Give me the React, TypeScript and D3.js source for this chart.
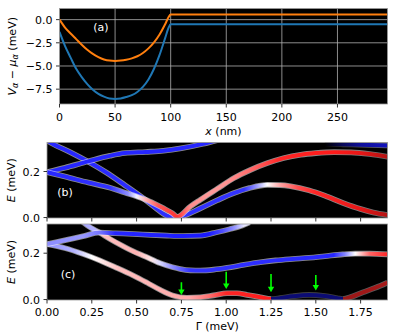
import React from "react";
import * as d3 from "d3";

const FONT = "'DejaVu Sans', sans-serif";
const FS = 11;

// ---------- Panel (a): potential profiles ----------
const potX = [0, 5, 10, 15, 20, 25, 30, 35, 40, 45, 50, 55, 60, 65, 70, 75, 80, 85, 90, 95, 98, 100, 295];
const potOrange = [0.0, -0.85, -1.5, -2.1, -2.7, -3.25, -3.7, -4.05, -4.3, -4.42, -4.45, -4.42, -4.33, -4.18, -3.95, -3.6, -3.1, -2.45, -1.6, -0.5, 0.25, 0.55, 0.55];
const potBlue = [-1.33, -2.85, -4.1, -5.3, -6.2, -6.95, -7.55, -8.0, -8.3, -8.5, -8.55, -8.5, -8.35, -8.15, -7.8, -7.25, -6.45, -5.3, -3.8, -2.0, -0.9, -0.5, -0.5];
const potXTicks = [0, 50, 100, 150, 200, 250];
const potYTicks = [0, -2.5, -5, -7.5];

// ---------- Panels (b),(c): spectra vs Gamma ----------
const gammaTicks = [0, 0.25, 0.5, 0.75, 1.0, 1.25, 1.5, 1.75];
const energyTicks = [0, 0.2];

// points: [Gamma, E]; colour stops: [Gamma, polarisation (-1 blue .. 1 red), weight]
const b1Pts = [[0, 0.197], [0.1, 0.216], [0.23, 0.244], [0.35, 0.268], [0.435, 0.28], [0.55, 0.285], [0.65, 0.29], [0.75, 0.301], [0.87, 0.32], [0.96, 0.338]];
const b1Col = [[0, -0.85, 1], [0.96, -0.85, 1]];

const b2Pts = [[0, 0.197], [0.1, 0.178], [0.23, 0.152], [0.35, 0.13], [0.435, 0.108], [0.5, 0.092], [0.55, 0.078], [0.6, 0.06], [0.65, 0.04], [0.7, 0.018], [0.727, 0.003], [0.8, 0.048], [0.855, 0.077], [0.95, 0.125], [1.042, 0.171], [1.13, 0.205], [1.229, 0.236], [1.32, 0.258], [1.416, 0.273], [1.5, 0.28], [1.603, 0.284], [1.697, 0.283], [1.8, 0.276], [1.9, 0.264]];
const b2Col = [[0, -0.85, 1], [0.35, -0.8, 1], [0.45, -0.45, 1], [0.5, -0.05, 1], [0.56, 0.35, 1], [0.62, 0.65, 1], [0.727, 0.8, 1], [0.8, 0.45, 1], [0.9, 0.4, 1], [1.0, 0.42, 1], [1.15, 0.6, 1], [1.3, 0.85, 1], [1.6, 0.9, 1], [1.75, 0.9, 0.9], [1.9, 0.9, 0.7]];

const b3Pts = [[0, 0.335], [0.033, 0.32], [0.13, 0.284], [0.229, 0.243], [0.33, 0.196], [0.43, 0.143], [0.537, 0.084], [0.6, 0.046], [0.668, 0.008], [0.715, 0.0], [0.762, 0.008], [0.855, 0.04], [0.95, 0.075], [1.042, 0.106], [1.13, 0.128], [1.229, 0.142], [1.3, 0.141], [1.36, 0.136], [1.463, 0.118], [1.55, 0.095], [1.65, 0.064], [1.75, 0.037], [1.82, 0.022], [1.9, 0.011]];
const b3Col = [[0, -0.85, 1], [1.1, -0.8, 1], [1.17, -0.4, 1], [1.229, 0, 1], [1.3, 0.35, 1], [1.4, 0.7, 1], [1.5, 0.85, 1], [1.75, 0.9, 0.9], [1.9, 0.9, 0.7]];

const b4Pts = [[1.55, 0.319], [1.65, 0.318], [1.75, 0.316], [1.85, 0.314], [1.9, 0.313]];
const b4Col = [[1.55, -0.9, 0], [1.65, -0.9, 0.35], [1.75, -0.9, 0.6], [1.9, -0.9, 0.75]];

const c1Pts = [[0, 0.239], [0.1, 0.256], [0.2, 0.273], [0.294, 0.289], [0.38, 0.286], [0.481, 0.283], [0.58, 0.279], [0.668, 0.276], [0.76, 0.274], [0.855, 0.276], [0.95, 0.291], [1.02, 0.304], [1.08, 0.317], [1.13, 0.333]];
const c1Col = [[0, -0.45, 1], [0.2, -0.4, 1], [0.3, -0.55, 1], [0.38, -0.85, 1], [0.9, -0.9, 1], [0.98, -0.7, 1], [1.05, -0.4, 1], [1.1, -0.1, 1]];

const c2Pts = [[0.2, 0.335], [0.24, 0.312], [0.294, 0.289], [0.35, 0.262], [0.42, 0.232], [0.481, 0.208], [0.55, 0.185], [0.631, 0.157], [0.7, 0.14], [0.743, 0.132], [0.8, 0.126], [0.855, 0.125], [0.93, 0.129], [1.005, 0.137], [1.1, 0.15], [1.2, 0.162], [1.276, 0.169], [1.37, 0.175], [1.463, 0.18], [1.55, 0.187], [1.65, 0.195], [1.72, 0.198], [1.8, 0.198], [1.9, 0.195]];
const c2Col = [[0.2, -0.35, 1], [0.27, -0.3, 1], [0.31, 0.25, 1], [0.5, 0.3, 1], [0.58, 0.1, 1], [0.63, -0.15, 1], [0.7, -0.45, 1], [0.8, -0.8, 1], [1.6, -0.85, 1], [1.66, -0.5, 1], [1.72, 0, 1], [1.8, 0.6, 1], [1.9, 0.85, 1]];

const c3Pts = [[0, 0.239], [0.1, 0.222], [0.2, 0.197], [0.294, 0.169], [0.38, 0.14], [0.481, 0.104], [0.56, 0.072], [0.631, 0.042], [0.7, 0.018], [0.78, 0.008], [0.855, 0.01], [0.93, 0.018], [1.005, 0.027], [1.06, 0.027], [1.117, 0.02], [1.19, 0.01], [1.25, 0.002], [1.3, 0.006], [1.37, 0.014], [1.463, 0.02], [1.55, 0.015], [1.62, 0.006], [1.65, 0.002], [1.7, 0.012], [1.762, 0.031], [1.83, 0.05], [1.9, 0.073]];
const c3Col = [[0, -0.45, 1], [0.15, -0.3, 1], [0.25, 0, 1], [0.4, 0.25, 1], [0.8, 0.35, 1], [0.9, 0.55, 1], [1.0, 0.85, 1], [1.249, 0.9, 1], [1.251, -0.9, 0.45], [1.649, -0.9, 0.45], [1.651, 0.85, 0.6], [1.9, 0.85, 0.65]];

const arrowG = [0.75, 1.0, 1.25, 1.5];
const arrowTop = [0.075, 0.12, 0.11, 0.106];
const arrowTip = [0.02, 0.045, 0.031, 0.039];

// ---------- layout ----------
const PA = { l: 59.5, r: 387.5, t: 8.5, b: 104 };
const PB = { l: 47, r: 387.5, t: 142.5, b: 218 };
const PC = { l: 47, r: 387.5, t: 224, b: 300 };

const bwr = d3.scaleLinear<string>().domain([-1, 0, 1]).range(["#0000ff", "#ffffff", "#ff0000"]);
const shade = (c: number, a: number) => d3.interpolateRgb("#000000", bwr(c))(a);

function Band({ id, pts, col, x, y }: any) {
  const line = d3.line<number[]>().x((d) => x(d[0])).y((d) => y(d[1])).curve(d3.curveMonotoneX);
  const g0 = pts[0][0];
  const g1 = pts[pts.length - 1][0];
  const off = (g: number) => Math.max(0, Math.min(1, (g - g0) / (g1 - g0)));
  const d = line(pts) || "";
  return (
    <g>
      <defs>
        <linearGradient id={id + "o"} gradientUnits="userSpaceOnUse" x1={x(g0)} x2={x(g1)} y1={0} y2={0}>
          {col.map((s: number[], i: number) => (
            <stop key={i} offset={off(s[0])} stopColor="#ffffff" stopOpacity={s[2] * 0.55} />
          ))}
        </linearGradient>
        <linearGradient id={id + "c"} gradientUnits="userSpaceOnUse" x1={x(g0)} x2={x(g1)} y1={0} y2={0}>
          {col.map((s: number[], i: number) => (
            <stop key={i} offset={off(s[0])} stopColor={shade(s[1], s[2])} />
          ))}
        </linearGradient>
      </defs>
      <path d={d} fill="none" stroke={`url(#${id}o)`} strokeWidth={5.6} />
      <path d={d} fill="none" stroke={`url(#${id}c)`} strokeWidth={4} />
    </g>
  );
}

function Frame({ p }: any) {
  return <rect x={p.l} y={p.t} width={p.r - p.l} height={p.b - p.t} fill="none" stroke="#999" strokeWidth={0.8} />;
}

export default function App() {
  const xa = d3.scaleLinear().domain([0, 295]).range([PA.l, PA.r]);
  const ya = d3.scaleLinear().domain([-9.1, 1.2]).range([PA.b, PA.t]);
  const xg = d3.scaleLinear().domain([0, 1.9]).range([PB.l, PB.r]);
  const yb = d3.scaleLinear().domain([-0.002, 0.326]).range([PB.b, PB.t]);
  const yc = d3.scaleLinear().domain([-0.002, 0.326]).range([PC.b, PC.t]);

  const potLine = d3.line<number>().x((_, i) => xa(potX[i])).y((d) => ya(d)).curve(d3.curveMonotoneX);
  const fmt1 = (v: number) => d3.format(".1f")(v).replace("-", "\u2212");
  const fmt2 = d3.format(".2f");

  const yTicksLeft = (p: any, y: any, ticks: number[], f: (v: number) => string) =>
    ticks.map((t) => (
      <g key={t}>
        <line x1={p.l - 3.5} x2={p.l} y1={y(t)} y2={y(t)} stroke="#000" strokeWidth={0.8} />
        <text x={p.l - 7} y={y(t) + 4} textAnchor="end" fontSize={FS} fontFamily={FONT}>{f(t)}</text>
      </g>
    ));

  return (
    <svg width={399} height={333} style={{ position: "absolute", left: 0, top: 0, background: "#fff" }} fontFamily={FONT}>
      <defs>
        <clipPath id="clipA"><rect x={PA.l} y={PA.t} width={PA.r - PA.l} height={PA.b - PA.t} /></clipPath>
        <clipPath id="clipB"><rect x={PB.l} y={PB.t} width={PB.r - PB.l} height={PB.b - PB.t} /></clipPath>
        <clipPath id="clipC"><rect x={PC.l} y={PC.t} width={PC.r - PC.l} height={PC.b - PC.t} /></clipPath>
      </defs>

      {/* Panel (a) */}
      <rect x={PA.l} y={PA.t} width={PA.r - PA.l} height={PA.b - PA.t} fill="#000" />
      {potXTicks.slice(1).map((t) => (
        <line key={"gx" + t} x1={xa(t)} x2={xa(t)} y1={PA.t} y2={PA.b} stroke="#b0b0b0" strokeWidth={0.8} />
      ))}
      {potYTicks.map((t) => (
        <line key={"gy" + t} x1={PA.l} x2={PA.r} y1={ya(t)} y2={ya(t)} stroke="#b0b0b0" strokeWidth={0.8} />
      ))}
      <g clipPath="url(#clipA)">
        <path d={potLine(potOrange) || ""} fill="none" stroke="#ff7f0e" strokeWidth={2} />
        <path d={potLine(potBlue) || ""} fill="none" stroke="#1f77b4" strokeWidth={2} />
      </g>
      <Frame p={PA} />
      {potXTicks.map((t) => (
        <g key={"xt" + t}>
          <line x1={xa(t)} x2={xa(t)} y1={PA.b} y2={PA.b + 3.5} stroke="#000" strokeWidth={0.8} />
          <text x={xa(t)} y={PA.b + 16.8} textAnchor="middle" fontSize={FS}>{String(t)}</text>
        </g>
      ))}
      {yTicksLeft(PA, ya, potYTicks, fmt1)}
      <text x={(PA.l + PA.r) / 2} y={PA.b + 30.5} textAnchor="middle" fontSize={FS}>
        <tspan fontStyle="italic">x</tspan> (nm)
      </text>
      <text transform={`translate(16,${(PA.t + PA.b) / 2}) rotate(-90)`} textAnchor="middle" fontSize={FS}>
        <tspan fontStyle="italic">V</tspan>
        <tspan fontStyle="italic" fontSize={8} dy={2}>α</tspan>
        <tspan dy={-2}> − </tspan>
        <tspan fontStyle="italic">μ</tspan>
        <tspan fontStyle="italic" fontSize={8} dy={2}>α</tspan>
        <tspan dy={-2}> (meV)</tspan>
      </text>
      <text x={101} y={30.5} textAnchor="middle" fontSize={FS} fill="#fff">(a)</text>

      {/* Panel (b) */}
      <rect x={PB.l} y={PB.t} width={PB.r - PB.l} height={PB.b - PB.t} fill="#000" />
      <g clipPath="url(#clipB)">
        <Band id="b4" pts={b4Pts} col={b4Col} x={xg} y={yb} />
        <Band id="b3" pts={b3Pts} col={b3Col} x={xg} y={yb} />
        <Band id="b1" pts={b1Pts} col={b1Col} x={xg} y={yb} />
        <Band id="b2" pts={b2Pts} col={b2Col} x={xg} y={yb} />
      </g>
      <Frame p={PB} />
      {gammaTicks.map((t) => (
        <line key={"bt" + t} x1={xg(t)} x2={xg(t)} y1={PB.b} y2={PB.b + 3.5} stroke="#000" strokeWidth={0.8} />
      ))}
      {yTicksLeft(PB, yb, energyTicks, fmt1)}
      <text x={65} y={195.5} textAnchor="middle" fontSize={FS} fill="#fff">(b)</text>
      <text transform={`translate(15,${(PB.t + PB.b) / 2}) rotate(-90)`} textAnchor="middle" fontSize={FS}>
        <tspan fontStyle="italic">E</tspan> (meV)
      </text>

      {/* Panel (c) */}
      <rect x={PC.l} y={PC.t} width={PC.r - PC.l} height={PC.b - PC.t} fill="#000" />
      <g clipPath="url(#clipC)">
        <Band id="c3" pts={c3Pts} col={c3Col} x={xg} y={yc} />
        <Band id="c2" pts={c2Pts} col={c2Col} x={xg} y={yc} />
        <Band id="c1" pts={c1Pts} col={c1Col} x={xg} y={yc} />
        {arrowG.map((g, i) => {
          const x0 = xg(g);
          const yt = yc(arrowTop[i]);
          const yp = yc(arrowTip[i]);
          return (
            <g key={"ar" + i}>
              <line x1={x0} x2={x0} y1={yt} y2={yp - 5} stroke="#00ff00" strokeWidth={1.6} />
              <path d={`M${x0 - 3.2},${yp - 5.5} L${x0 + 3.2},${yp - 5.5} L${x0},${yp} Z`} fill="#00ff00" />
            </g>
          );
        })}
      </g>
      <Frame p={PC} />
      {gammaTicks.map((t) => (
        <g key={"ct" + t}>
          <line x1={xg(t)} x2={xg(t)} y1={PC.b} y2={PC.b + 3.5} stroke="#000" strokeWidth={0.8} />
          <text x={xg(t)} y={PC.b + 16.3} textAnchor="middle" fontSize={FS}>{fmt2(t)}</text>
        </g>
      ))}
      {yTicksLeft(PC, yc, energyTicks, fmt1)}
      <text x={68} y={277.5} textAnchor="middle" fontSize={FS} fill="#fff">(c)</text>
      <text transform={`translate(15,${(PC.t + PC.b) / 2}) rotate(-90)`} textAnchor="middle" fontSize={FS}>
        <tspan fontStyle="italic">E</tspan> (meV)
      </text>
      <text x={(PC.l + PC.r) / 2} y={PC.b + 30} textAnchor="middle" fontSize={FS}>Γ (meV)</text>
    </svg>
  );
}
